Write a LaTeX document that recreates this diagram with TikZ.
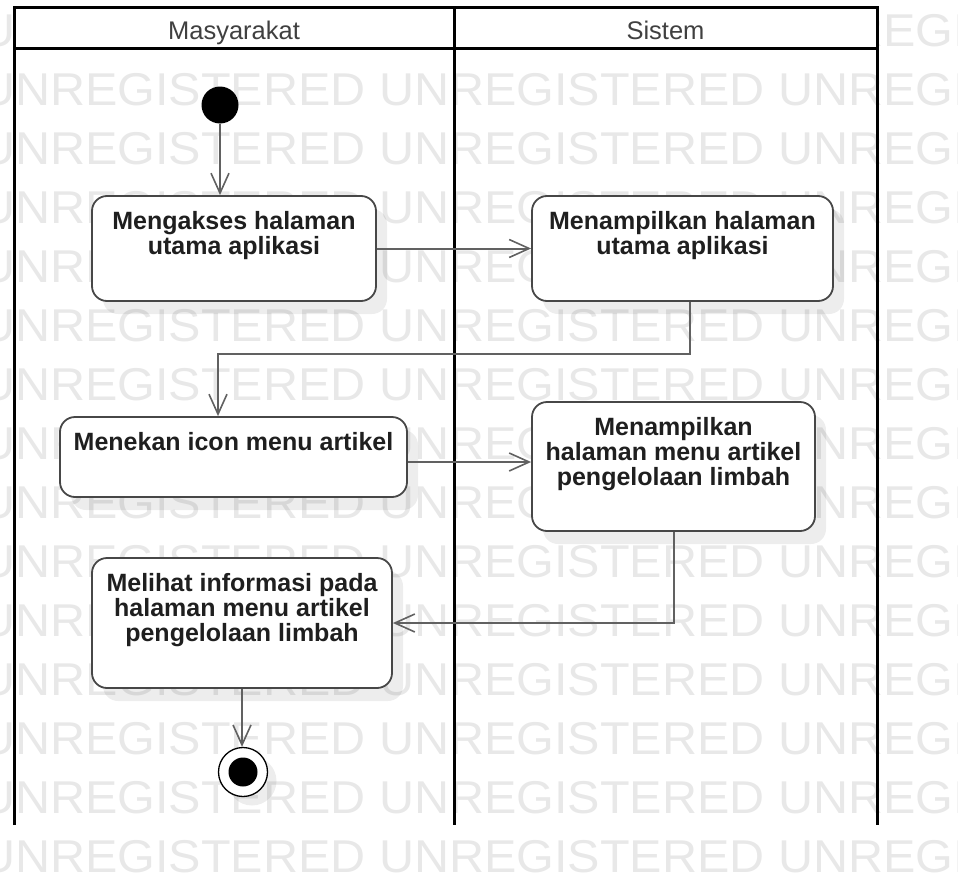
\documentclass[tikz,border=0pt]{standalone}
\usepackage{fontspec}
\setmainfont{Liberation Sans}
\usepackage{graphicx}
\usetikzlibrary{arrows.meta,shadows}

\begin{document}
\begin{tikzpicture}[x=1pt,y=-1pt,
  lane/.style={line width=3pt, draw=black, line join=miter},
  actbox/.style={rectangle, draw=black!72, line width=1.8pt, rounded corners=15pt, fill=white, inner sep=0pt,
     drop shadow={shadow xshift=11pt, shadow yshift=-13pt, fill=black, opacity=0.07}},
  acttext/.style={anchor=north, inner sep=0pt, align=center,
     font=\fontsize{25}{25}\selectfont\bfseries, text=black!88},
  flow/.style={draw=black!62, line width=2pt,
     -{Straight Barb[length=20pt,width=18pt,line width=1.6pt]}},
  lanehead/.style={anchor=base, inner sep=0pt, font=\fontsize{25.5}{26}\selectfont, text=black!75},
  wm/.style={anchor=base west, inner sep=0pt, text=black!9, font=\fontsize{46}{46}\selectfont},
  startdot/.style={circle, fill=black, inner sep=0pt, minimum size=37pt},
  endring/.style={circle, draw=black, line width=1.3pt, fill=white, inner sep=0pt, minimum size=49pt,
     drop shadow={shadow xshift=9pt, shadow yshift=-9pt, fill=black, opacity=0.07}},
  enddot/.style={circle, fill=black, inner sep=0pt, minimum size=29pt}
]
\useasboundingbox (0,0) rectangle (958,875);

% background watermark rows
\begin{scope}
  \clip (0,0) rectangle (958,875);
  \foreach \k in {0,...,14}
    \node[wm] (wm\k) at (-20,{47+58.95*\k}) {\scalebox{1.055}[1]{UNREGISTERED UNREGISTERED UNREGISTERED}};
\end{scope}

% swimlanes
\fill[white] (14,8) rectangle (877,49);
\draw[lane] (14,825) -- (14,8) -- (877,8) -- (877,825);
\draw[lane] (454,8) -- (454,825);
\draw[lane] (14,49) -- (877,49);
\node[lanehead] (hM) at (234,40) {Masyarakat};
\node[lanehead] (hS) at (665.5,40) {Sistem};

% activities
\node[actbox, minimum width=284pt, minimum height=105pt] (b1) at (234,248.5) {};
\node[acttext] (t1) at ([yshift=-16pt]b1.north) {Mengakses halaman\\utama aplikasi};

\node[actbox, minimum width=301pt, minimum height=105pt] (b2) at (682.5,248.5) {};
\node[acttext] (t2) at ([yshift=-16pt]b2.north) {Menampilkan halaman\\utama aplikasi};

\node[actbox, minimum width=347pt, minimum height=80pt] (b3) at (233.5,457) {};
\node[acttext] (t3) at ([yshift=-16pt]b3.north) {Menekan icon menu artikel};

\node[actbox, minimum width=283pt, minimum height=129pt] (b4) at (673.5,466.5) {};
\node[acttext] (t4) at ([yshift=-16pt]b4.north) {Menampilkan\\halaman menu artikel\\pengelolaan limbah};

\node[actbox, minimum width=300pt, minimum height=130pt] (b5) at (242,623) {};
\node[acttext] (t5) at ([yshift=-16pt]b5.north) {Melihat informasi pada\\halaman menu artikel\\pengelolaan limbah};

% initial and final states
\node[startdot] (init) at (220,105) {};
\node[endring] (fin) at (243,772) {};
\node[enddot] (finDot) at (fin.center) {};

% control flows
\coordinate (j1) at (690,354);
\coordinate (j2) at (218,354);
\draw[flow] (init) -- (init |- b1.north);
\draw[flow] (b1) -- (b2);
\draw[flow] (j1 |- b2.south) -- (j1) -- (j2) -- (j2 |- b3.north);
\draw[flow] ([yshift=-5pt]b3.east) -- ([yshift=4.5pt]b4.west);
\draw[flow] (b4.south) |- (b5.east);
\draw[flow] (b5.south) -- (b5.south |- fin.north);
\end{tikzpicture}
\end{document}
